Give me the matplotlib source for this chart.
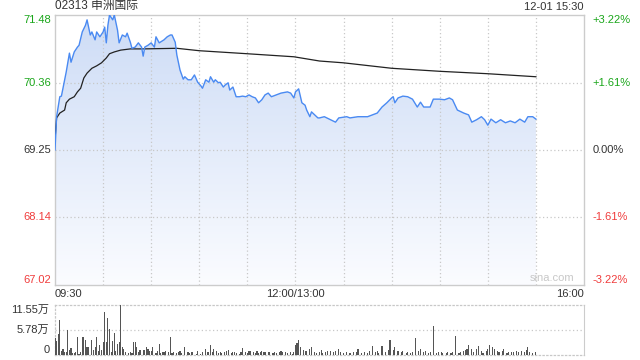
import numpy as np
import matplotlib
matplotlib.use('Agg')
import matplotlib.pyplot as plt
from matplotlib.colors import LinearSegmentedColormap

plt.rcParams['font.family'] = ['Liberation Sans', 'Noto Sans CJK SC']

# 标题与时间
title = '02313 申洲国际'
stamp = '12-01 15:30'
prev_close = 69.25

# 坐标轴刻度
price_ticks = [67.02, 68.14, 69.25, 70.36, 71.48]
pct_labels = ['-3.22%', '-1.61%', '0.00%', '+1.61%', '+3.22%']
time_ticks = [0, 150, 330]
time_labels = ['09:30', '12:00/13:00', '16:00']
vol_ticks = [0, 5.78, 11.55]
vol_labels = ['0', '5.78万', '11.55万']

# 分时价格（分钟序号，09:30 = 0，午休后 13:00 = 150）
price_min = [0, 1, 3, 4, 6, 7, 9, 10, 12, 14,
             15, 17, 19, 20, 22, 23, 25, 26, 28, 30,
             31, 32, 33, 34, 36, 37, 39, 40, 42, 44,
             45, 47, 48, 50, 52, 54, 55, 56, 58, 60,
             62, 63, 65, 68, 70, 72, 73, 75, 76, 78,
             80, 81, 83, 85, 87, 89, 91, 92, 94, 96,
             97, 99, 100, 102, 103, 105, 106, 108, 109, 111,
             113, 115, 117, 119, 121, 123, 125, 127, 129, 131,
             133, 135, 136, 138, 141, 145, 147, 149, 150, 152,
             154, 156, 157, 159, 160, 162, 164, 165, 168, 175,
             177, 182, 184, 189, 195, 198, 201, 204, 207, 210,
             211, 212, 214, 217, 220, 223, 226, 228, 230, 232,
             234, 236, 240, 243, 246, 248, 251, 255, 258, 260,
             263, 266, 268, 270, 272, 275, 278, 281, 284, 287,
             290, 293, 295, 298, 300]
price_val = [69.25, 69.80, 70.13, 70.14, 70.41, 70.54, 70.85, 70.70, 70.87, 70.95,
             70.98, 71.20, 71.31, 71.40, 71.15, 71.20, 71.07, 71.20, 71.12, 71.20,
             71.28, 71.02, 71.31, 71.48, 71.40, 71.48, 71.23, 71.02, 71.15, 71.12,
             71.18, 71.03, 70.93, 70.95, 71.02, 70.95, 70.80, 70.95, 70.98, 71.02,
             70.95, 71.12, 71.02, 71.07, 71.12, 71.15, 71.15, 71.03, 70.82, 70.57,
             70.42, 70.46, 70.41, 70.41, 70.49, 70.37, 70.31, 70.27, 70.41, 70.37,
             70.46, 70.37, 70.41, 70.36, 70.37, 70.29, 70.32, 70.36, 70.24, 70.29,
             70.13, 70.13, 70.14, 70.13, 70.16, 70.13, 70.11, 70.03, 70.08, 70.16,
             70.19, 70.13, 70.14, 70.16, 70.19, 70.21, 70.19, 70.11, 70.21, 70.26,
             70.03, 69.99, 69.91, 69.80, 69.88, 69.83, 69.78, 69.78, 69.80, 69.71,
             69.78, 69.80, 69.78, 69.80, 69.80, 69.83, 69.86, 69.96, 70.03, 70.11,
             70.13, 70.03, 70.11, 70.14, 70.13, 70.09, 69.96, 70.04, 69.96, 69.96,
             69.96, 70.09, 70.09, 70.08, 70.11, 70.08, 69.91, 69.86, 69.83, 69.71,
             69.75, 69.80, 69.75, 69.66, 69.76, 69.70, 69.75, 69.70, 69.73, 69.70,
             69.76, 69.71, 69.80, 69.80, 69.76]

# 均价线
avg_min = [0, 1, 3, 6, 7, 9, 12, 14, 16, 18,
           20, 23, 26, 29, 32, 34, 37, 41, 47, 55,
           76, 90, 120, 149, 165, 180, 210, 240, 270, 300]
avg_val = [69.42, 69.78, 69.86, 69.91, 70.03, 70.09, 70.13, 70.21, 70.27, 70.44,
           70.52, 70.60, 70.64, 70.69, 70.77, 70.84, 70.87, 70.90, 70.92, 70.92,
           70.93, 70.89, 70.84, 70.79, 70.72, 70.69, 70.60, 70.55, 70.51, 70.46]

# 成交量（万股）
vol_min = [0, 1, 2, 3, 4, 5, 6, 7, 8, 9,
           10, 11, 12, 13, 14, 15, 16, 17, 18, 19,
           20, 21, 23, 24, 25, 26, 27, 28, 29, 30,
           31, 32, 33, 34, 35, 36, 37, 38, 39, 40,
           41, 42, 43, 44, 46, 47, 48, 49, 50, 51,
           52, 53, 55, 56, 57, 58, 59, 60, 61, 63,
           64, 65, 66, 67, 68, 69, 71, 72, 73, 74,
           76, 77, 78, 79, 81, 83, 84, 85, 86, 88,
           89, 91, 92, 94, 95, 96, 97, 98, 99, 101,
           102, 103, 104, 106, 107, 108, 110, 111, 112, 113,
           115, 116, 117, 119, 120, 121, 122, 124, 125, 126,
           127, 128, 129, 130, 131, 133, 134, 136, 137, 138,
           140, 141, 142, 144, 145, 147, 148, 149, 150, 151,
           152, 153, 155, 156, 157, 159, 160, 162, 163, 165,
           166, 167, 169, 170, 172, 174, 175, 177, 178, 180,
           182, 184, 186, 188, 189, 191, 193, 195, 196, 198,
           200, 201, 202, 204, 206, 208, 209, 211, 212, 214,
           216, 217, 219, 220, 222, 223, 225, 227, 228, 230,
           231, 233, 234, 236, 238, 239, 241, 242, 244, 245,
           247, 248, 250, 252, 253, 255, 256, 257, 258, 260,
           261, 263, 264, 266, 267, 269, 270, 271, 273, 274,
           276, 277, 279, 280, 282, 283, 285, 286, 288, 289,
           291, 293, 294, 295, 296, 298, 300]
vol_val = [3.85, 3.2, 4.85, 8.2, 1.0, 1.4, 0.6, 0.8, 5.8, 1.2,
           1.6, 0.5, 0.4, 0.6, 4.1, 0.2, 0.8, 4.1, 4.1, 3.5,
           1.8, 1.8, 3.5, 1.2, 1.9, 4.1, 1.0, 2.3, 1.2, 2.9,
           10.0, 2.9, 8.5, 6.0, 0.6, 3.2, 5.0, 1.0, 2.5, 2.9,
           11.55, 1.9, 1.5, 0.8, 0.5, 0.8, 0.5, 3.1, 3.1, 1.9,
           0.6, 1.2, 1.2, 1.2, 1.8, 1.5, 1.0, 1.0, 1.8, 0.4,
           1.0, 2.5, 0.4, 0.8, 0.6, 1.0, 0.6, 4.2, 0.4, 0.8,
           0.5, 0.8, 1.0, 0.4, 1.9, 0.8, 0.4, 0.6, 0.8, 0.2,
           1.0, 0.2, 0.6, 1.4, 0.8, 0.8, 2.2, 0.6, 1.4, 1.0,
           0.5, 0.6, 0.5, 0.6, 1.0, 1.2, 0.4, 0.8, 0.6, 0.5,
           0.2, 0.6, 1.6, 0.6, 0.5, 1.0, 1.0, 0.6, 0.5, 1.0,
           0.5, 0.6, 1.0, 0.8, 0.6, 0.8, 0.6, 0.5, 0.6, 0.4,
           0.6, 1.0, 0.6, 0.8, 0.4, 0.6, 0.2, 0.6, 2.3, 2.7,
           3.5, 1.9, 1.2, 1.0, 1.0, 1.5, 1.9, 0.8, 0.5, 0.8,
           1.2, 0.5, 0.8, 1.0, 1.0, 0.8, 1.0, 1.3, 0.8, 0.5,
           0.8, 0.5, 0.8, 0.7, 1.4, 0.5, 0.8, 0.5, 1.0, 2.1,
           0.8, 1.0, 0.5, 2.1, 0.8, 1.2, 3.5, 1.2, 1.8, 1.0,
           0.8, 1.0, 0.5, 0.8, 0.5, 0.8, 3.85, 1.0, 1.3, 0.8,
           1.0, 0.5, 0.8, 6.7, 0.5, 0.8, 0.8, 0.5, 0.5, 0.8,
           0.5, 0.8, 4.4, 0.5, 0.8, 1.0, 1.2, 1.5, 2.3, 1.3,
           0.8, 1.5, 2.1, 1.0, 0.5, 1.0, 1.5, 2.3, 1.9, 1.3,
           1.0, 0.8, 1.0, 1.5, 0.5, 0.8, 0.8, 0.8, 1.0, 0.8,
           1.0, 0.8, 1.2, 1.8, 0.8, 0.5, 0.8]

assert len(price_min) == len(price_val)
assert len(avg_min) == len(avg_val)
assert len(vol_min) == len(vol_val)

GREEN = '#1aa61a'
RED = '#f03c3c'
DARK = '#333333'
GRID = '#c8c8c8'
BORDER = '#cccccc'

fig = plt.figure(figsize=(6.4, 3.6), dpi=100)
W, H = 640, 360
ax = fig.add_axes([55 / W, 75 / H, 529 / W, 270 / H])
axv = fig.add_axes([55 / W, 5 / H, 529 / W, 50 / H])

# 渐变填充
poly = ax.fill_between(price_min, price_val, price_ticks[0], color='none', lw=0)
grad = np.linspace(1, 0, 256).reshape(-1, 1)
cmap = LinearSegmentedColormap.from_list('fill', ['#fbfcff', '#cddcf6'])
im = ax.imshow(grad, cmap=cmap, aspect='auto', origin='upper',
               extent=[0, 330, price_ticks[0], price_ticks[-1]], zorder=1)
im.set_clip_path(poly.get_paths()[0], transform=ax.transData)

# 网格
for t in range(30, 330, 30):
    ax.axvline(t, color=GRID, lw=0.9, ls=(0, (1, 2)), zorder=2)
for p in price_ticks[1:-1]:
    ax.axhline(p, color=GRID, lw=0.9, ls=(0, (1, 2)), zorder=2)

ax.plot(price_min, price_val, color='#4a8af2', lw=1.0, zorder=4)
ax.plot(avg_min, avg_val, color='#222222', lw=0.9, zorder=3)

ax.set_xlim(0, 330)
ax.set_ylim(price_ticks[0], price_ticks[-1])
for s in ax.spines.values():
    s.set_color(BORDER)
    s.set_linewidth(1.0)

ax.set_xticks(time_ticks)
ax.set_xticklabels(time_labels, fontsize=8, color=DARK)
for lab, ha in zip(ax.get_xticklabels(), ['left', 'center', 'right']):
    lab.set_ha(ha)
ax.tick_params(axis='x', length=0, pad=3)

def level_color(p):
    if abs(p - prev_close) < 0.005:
        return DARK
    return GREEN if p > prev_close else RED

vas = ['bottom', 'center', 'center', 'center', 'top']
ax.set_yticks(price_ticks)
ax.set_yticklabels(['%.2f' % p for p in price_ticks], fontsize=8)
ax.tick_params(axis='y', length=0, pad=3)
for lab, p, va in zip(ax.get_yticklabels(), price_ticks, vas):
    lab.set_color(level_color(p))
    lab.set_va(va)

axr = ax.twinx()
axr.set_ylim(price_ticks[0], price_ticks[-1])
axr.set_yticks(price_ticks)
axr.set_yticklabels(pct_labels, fontsize=8)
axr.tick_params(axis='y', length=0, pad=6)
for lab, p, va in zip(axr.get_yticklabels(), price_ticks, vas):
    lab.set_color(level_color(p))
    lab.set_va(va)
for s in axr.spines.values():
    s.set_visible(False)

ax.text(0, 1.01, title, transform=ax.transAxes, fontsize=8.5, color=DARK,
        ha='left', va='bottom')
ax.text(1, 1.01, stamp, transform=ax.transAxes, fontsize=8, color=DARK,
        ha='right', va='bottom')
ax.text(0.94, 0.025, 'sina.com', transform=ax.transAxes, fontsize=8,
        color='#c8c8c8', ha='center', va='center', zorder=5)

# 成交量
axv.bar(vol_min, vol_val, width=0.7, color='#555555', zorder=3)
axv.set_xlim(0, 330)
axv.set_ylim(0, vol_ticks[-1])
axv.axhline(vol_ticks[1], color=GRID, lw=0.9, ls=(0, (1, 2)), zorder=1)
axv.set_xticks([])
axv.set_yticks(vol_ticks)
axv.set_yticklabels(vol_labels, fontsize=8, color=DARK)
axv.tick_params(axis='y', length=0, pad=4)
for lab, va in zip(axv.get_yticklabels(), ['bottom', 'center', 'top']):
    lab.set_va(va)
for k in ['top', 'bottom', 'left']:
    axv.spines[k].set_color(GRID)
    axv.spines[k].set_linestyle((0, (1, 2)))
    axv.spines[k].set_linewidth(0.9)
axv.spines['right'].set_color(BORDER)

fig.savefig('out.png', dpi=100)
